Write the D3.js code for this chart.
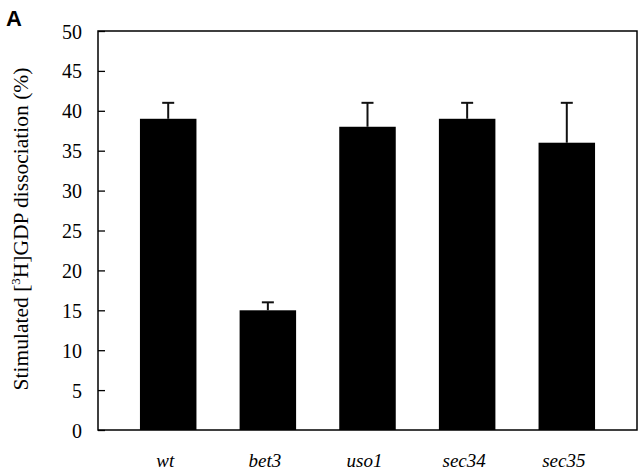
<!DOCTYPE html>
<html>
<head>
<meta charset="utf-8">
<script src="https://cdn.jsdelivr.net/npm/d3@7"></script>
<style>
  body { margin: 0; background: #fff; }
  svg { display: block; }
  text { font-family: "Liberation Serif", "DejaVu Serif", serif; fill: #000; }
</style>
</head>
<body>
<script>
// strains and measured values (% stimulated dissociation)
var strains = ["wt", "bet3", "uso1", "sec34", "sec35"];
var means = [39, 15, 38, 39, 36];
var errors = [2, 1, 3, 2, 5];
var yTicks = [0, 5, 10, 15, 20, 25, 30, 35, 40, 45, 50];

var w = 640, h = 471;
var plotLeft = 98, plotRight = 637, plotTop = 31, plotBottom = 430;

var svg = d3.select("body").append("svg")
  .attr("width", w)
  .attr("height", h);

var xScale = d3.scaleBand()
  .domain(strains)
  .range([plotLeft, plotRight])
  .paddingInner(0.433)
  .paddingOuter(0.421);

var yScale = d3.scaleLinear()
  .domain([0, 50])
  .range([plotBottom, plotTop]);

// bars
svg.selectAll("rect.bar")
  .data(strains)
  .enter()
  .append("rect")
  .attr("class", "bar")
  .attr("x", function(d) { return xScale(d); })
  .attr("y", function(d, i) { return yScale(means[i]); })
  .attr("width", xScale.bandwidth())
  .attr("height", function(d, i) { return yScale(0) - yScale(means[i]); })
  .attr("fill", "#000");

// error bars (upper only)
var eb = svg.selectAll("g.err")
  .data(strains)
  .enter()
  .append("g")
  .attr("class", "err")
  .attr("stroke", "#111")
  .attr("stroke-width", 2);

eb.append("line")
  .attr("x1", function(d) { return xScale(d) + xScale.bandwidth() / 2; })
  .attr("x2", function(d) { return xScale(d) + xScale.bandwidth() / 2; })
  .attr("y1", function(d, i) { return yScale(means[i]); })
  .attr("y2", function(d, i) { return yScale(means[i] + errors[i]); });

eb.append("line")
  .attr("x1", function(d) { return xScale(d) + xScale.bandwidth() / 2 - 6; })
  .attr("x2", function(d) { return xScale(d) + xScale.bandwidth() / 2 + 6; })
  .attr("y1", function(d, i) { return yScale(means[i] + errors[i]); })
  .attr("y2", function(d, i) { return yScale(means[i] + errors[i]); });

// frame
svg.append("rect")
  .attr("x", plotLeft)
  .attr("y", plotTop)
  .attr("width", plotRight - plotLeft)
  .attr("height", plotBottom - plotTop)
  .attr("fill", "none")
  .attr("stroke", "#000")
  .attr("stroke-width", 1.5);

// y axis, ticks pointing inward
var yAxis = d3.axisRight(yScale)
  .tickValues(yTicks)
  .tickSize(7)
  .tickFormat(function(d) { return d; });

var ya = svg.append("g")
  .attr("transform", "translate(" + plotLeft + ",0)")
  .call(yAxis);
ya.select(".domain").remove();
ya.selectAll(".tick line").attr("stroke", "#000").attr("stroke-width", 1.3);
ya.selectAll(".tick text")
  .attr("x", -16)
  .attr("dy", "0.35em")
  .attr("text-anchor", "end")
  .style("font-size", "20px")
  .style("font-family", "Liberation Serif, serif");

// x labels
var xAxis = d3.axisBottom(xScale).tickSize(0);
var xa = svg.append("g")
  .attr("transform", "translate(-3," + plotBottom + ")")
  .call(xAxis);
xa.select(".domain").remove();
xa.selectAll(".tick text")
  .attr("y", 37)
  .attr("dy", 0)
  .style("font-size", "19px")
  .style("font-style", "italic")
  .style("font-family", "Liberation Serif, serif");

// y axis title
var title = svg.append("text")
  .attr("transform", "translate(28," + 229 + ") rotate(-90)")
  .attr("text-anchor", "middle")
  .style("font-size", "21.5px");
title.append("tspan").text("Stimulated [");
title.append("tspan").attr("dy", -8).style("font-size", "13px").text("3");
title.append("tspan").attr("dy", 8).text("H]GDP dissociation (%)");

// panel letter
svg.append("text")
  .attr("x", 6)
  .attr("y", 26)
  .style("font-family", "Liberation Sans, Arial, sans-serif")
  .style("font-weight", "bold")
  .style("font-size", "22px")
  .text("A");
</script>
</body>
</html>
